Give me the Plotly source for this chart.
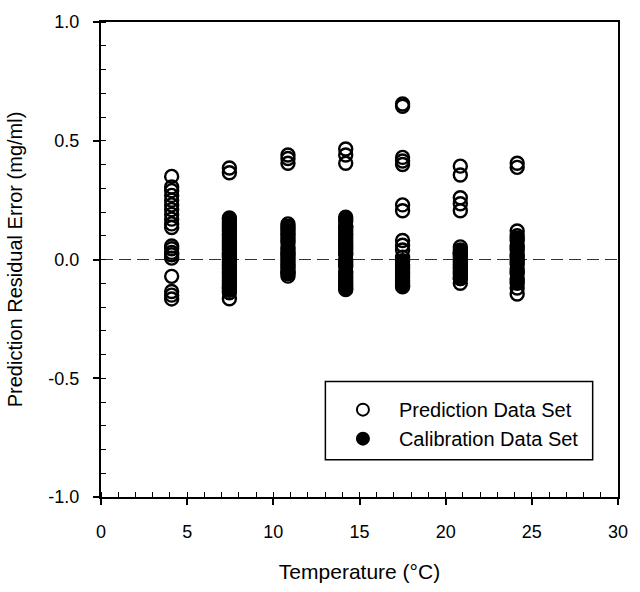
import plotly.graph_objects as go

# ---- data ----
temperatures = [4.1, 7.45, 10.85, 14.2, 17.5, 20.85, 24.15]

pred_t1 = [0.35, 0.305, 0.29, 0.27, 0.25, 0.23, 0.21, 0.19, 0.17, 0.15, 0.135,
           0.057, 0.045, 0.03, 0.02, 0.006, -0.071, -0.135, -0.15, -0.166]
pred_t2 = [0.385, 0.365, 0.175, 0.15, 0.13, 0.10, 0.07, 0.04, 0.01, -0.02,
           -0.05, -0.08, -0.10, -0.12, -0.14, -0.165]
pred_t3 = [0.44, 0.425, 0.405, 0.15, 0.13, 0.11, 0.09, -0.055, -0.07]
pred_t4 = [0.465, 0.44, 0.405, 0.14, 0.12, 0.09, 0.07, 0.05]
pred_t5 = [0.655, 0.645, 0.43, 0.415, 0.40, 0.23, 0.205, 0.08, 0.06, 0.04, 0.01]
pred_t6 = [0.393, 0.356, 0.26, 0.235, 0.205, 0.053, 0.03, -0.08, -0.10]
pred_t7 = [0.405, 0.388, 0.12, 0.10, -0.12, -0.145]

cal_t1 = []
cal_t2 = [0.17, 0.16, 0.14, 0.12, 0.11, 0.09, 0.08, 0.06, 0.05, 0.03, 0.02, 0.0,
          -0.01, -0.03, -0.04, -0.06, -0.07, -0.09, -0.11, -0.12, -0.13]
cal_t3 = [0.14, 0.12, 0.10, 0.08, 0.07, 0.05, 0.04, 0.03, 0.02, 0.01, 0.0,
          -0.01, -0.02, -0.03, -0.04, -0.05, -0.06]
cal_t4 = [0.178, 0.17, 0.16, 0.14, 0.13, 0.11, 0.10, 0.08, 0.06, 0.04, 0.03,
          0.02, 0.0, -0.01, -0.02, -0.03, -0.05, -0.06, -0.07, -0.08, -0.09,
          -0.10, -0.11, -0.12, -0.127]
cal_t5 = [-0.005, -0.02, -0.03, -0.04, -0.05, -0.06, -0.07, -0.08, -0.09,
          -0.10, -0.11, -0.115]
cal_t6 = [0.04, 0.03, 0.02, 0.01, 0.0, -0.01, -0.02, -0.03, -0.04, -0.05,
          -0.06, -0.07, -0.08]
cal_t7 = [0.09, 0.08, 0.06, 0.05, 0.04, 0.02, 0.01, 0.0, -0.01, -0.02, -0.04,
          -0.05, -0.06, -0.08, -0.09, -0.10]

pred_groups = [pred_t1, pred_t2, pred_t3, pred_t4, pred_t5, pred_t6, pred_t7]
cal_groups = [cal_t1, cal_t2, cal_t3, cal_t4, cal_t5, cal_t6, cal_t7]

y_tick_vals = [-1.0, -0.5, 0.0, 0.5, 1.0]
y_tick_text = ["-1.0", "-0.5", "0.0", "0.5", "1.0"]
x_tick_vals = [0, 5, 10, 15, 20, 25, 30]

# ---- build traces ----
def flatten(groups):
    xs, ys = [], []
    for t, vals in zip(temperatures, groups):
        xs += [t] * len(vals)
        ys += vals
    return xs, ys

px, py = flatten(pred_groups)
cx, cy = flatten(cal_groups)

FONT = "Liberation Sans, Arial, Helvetica, sans-serif"

fig = go.Figure()
fig.add_trace(go.Scatter(
    x=cx, y=cy, mode="markers", name="Calibration Data Set", legendrank=2,
    marker=dict(symbol="circle", size=13, color="black",
                line=dict(color="black", width=2.4)),
))
fig.add_trace(go.Scatter(
    x=px, y=py, mode="markers", name="Prediction Data Set", legendrank=1,
    marker=dict(symbol="circle-open", size=13, color="black",
                line=dict(color="black", width=2.4)),
))

axis_common = dict(showgrid=False, zeroline=False, linecolor="black",
                   linewidth=2, tickcolor="black", tickwidth=1.5,
                   tickfont=dict(family=FONT, size=18, color="black"))

fig.update_layout(
    width=640, height=592,
    margin=dict(l=101, r=12, t=19, b=82),
    paper_bgcolor="white", plot_bgcolor="white",
    font=dict(family=FONT, size=18, color="black"),
    showlegend=True,
    legend=dict(x=0.437, y=0.225, xanchor="left", yanchor="top",
                borderwidth=0, bgcolor="rgba(0,0,0,0)",
                traceorder="normal", itemsizing="constant", itemwidth=62,
                font=dict(family=FONT, size=20, color="black")),
    xaxis=dict(range=[0, 30], tickvals=x_tick_vals, ticks="outside", ticklen=6,
               mirror=True,
               minor=dict(ticks="inside", ticklen=5, dtick=1, tickcolor="black",
                          tickwidth=1),
               title=dict(text="Temperature (°C)", standoff=24,
                          font=dict(family=FONT, size=21)),
               ticklabelstandoff=11, **axis_common),
    yaxis=dict(range=[-1, 1], tickvals=y_tick_vals, ticktext=y_tick_text,
               ticks="outside", ticklen=6, mirror=True,
               minor=dict(ticks="inside", ticklen=5, dtick=0.1, tick0=0,
                          tickcolor="black", tickwidth=1),
               title=dict(text="Prediction Residual Error (mg/ml)", standoff=20,
                          font=dict(family=FONT, size=20)),
               ticklabelstandoff=10, **axis_common),
    xaxis2=dict(range=[0, 30], overlaying="x", anchor="y", side="bottom",
                tickvals=x_tick_vals, ticks="inside", ticklen=6,
                tickcolor="black", tickwidth=1.5, showticklabels=False,
                showline=False, showgrid=False, zeroline=False),
    yaxis2=dict(range=[-1, 1], overlaying="y", anchor="x", side="left",
                tickvals=y_tick_vals, ticks="inside", ticklen=6,
                tickcolor="black", tickwidth=1.5, showticklabels=False,
                showline=False, showgrid=False, zeroline=False),
    shapes=[
        dict(type="line", xref="paper", x0=0, x1=1, yref="y", y0=0, y1=0,
             line=dict(color="#333", width=1, dash="12px,6px"), layer="below"),
        dict(type="rect", xref="paper", yref="paper",
             x0=0.434, x1=0.951, y0=0.0785, y1=0.243,
             line=dict(color="black", width=1.5), fillcolor="white",
             layer="below"),
    ],
)

fig.write_html("out.html")
